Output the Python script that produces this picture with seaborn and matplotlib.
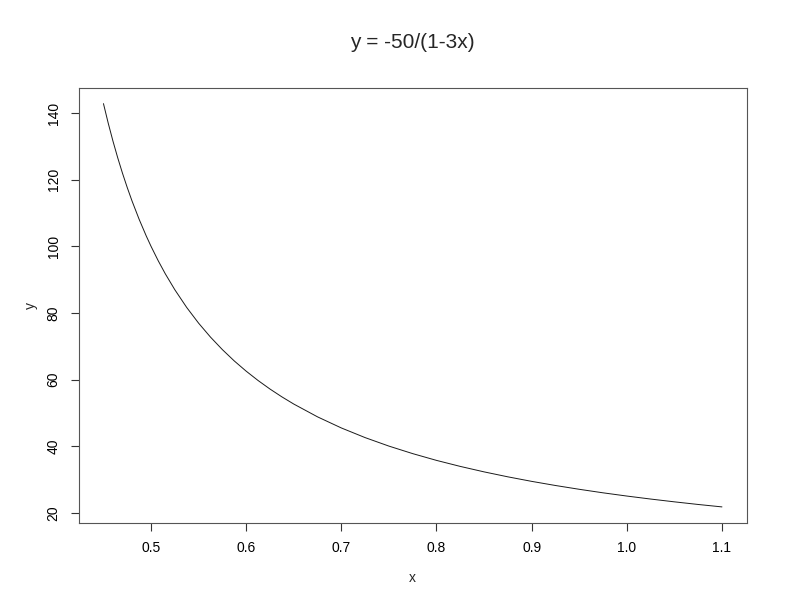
import matplotlib
matplotlib.use("Agg")
import matplotlib.pyplot as plt
import pandas as pd
import seaborn as sns

# values
x_vals = [0.45, 0.455, 0.46, 0.465, 0.47, 0.475, 0.48, 0.4875, 0.495, 0.5, 0.5075,
          0.515, 0.525, 0.5375, 0.55, 0.5625, 0.575, 0.5875, 0.6, 0.6125, 0.625,
          0.6375, 0.65, 0.675, 0.7, 0.725, 0.75, 0.775, 0.8, 0.825, 0.85, 0.875,
          0.9, 0.925, 0.95, 0.975, 1.0, 1.025, 1.05, 1.075, 1.1]
y_vals = [142.86, 136.99, 131.58, 126.58, 121.95, 117.65, 113.64, 108.11, 103.09,
          100.0, 95.69, 91.74, 86.96, 81.63, 76.92, 72.73, 68.97, 65.57, 62.5,
          59.7, 57.14, 54.79, 52.63, 48.78, 45.45, 42.55, 40.0, 37.74, 35.71,
          33.9, 32.26, 30.77, 29.41, 28.17, 27.03, 25.97, 25.0, 24.1, 23.26,
          22.47, 21.74]
x_ticks = [0.5, 0.6, 0.7, 0.8, 0.9, 1.0, 1.1]
y_ticks = [20, 40, 60, 80, 100, 120, 140]

df = pd.DataFrame({"x": x_vals, "y": y_vals})

sns.set_style("white")
plt.rcParams['font.family'] = ['Liberation Sans', 'DejaVu Sans']

fig = plt.figure(figsize=(7.92, 6.12), dpi=100)
ax = fig.add_axes([0.0994, 0.1454, 0.8434, 0.7116])

sns.lineplot(data=df, x="x", y="y", ax=ax, color="#1a1a1a", linewidth=0.7, sort=False)

ax.set_xlim(0.424, 1.126)
ax.set_ylim(16.9, 147.7)
ax.set_xticks(x_ticks)
ax.set_xticklabels(["0.5", "0.6", "0.7", "0.8", "0.9", "1.0", "1.1"])
ax.set_yticks(y_ticks)
ax.set_yticklabels([str(v) for v in y_ticks], rotation=90, va="center")

ax.tick_params(axis="both", direction="out", length=6, width=0.8, colors="#333333",
               labelcolor="black", labelsize=10, pad=7, left=True, bottom=True)
for s in ax.spines.values():
    s.set_visible(True)
    s.set_color("#555555")
    s.set_linewidth(0.8)

ax.set_xlabel("x", fontsize=10)
ax.set_ylabel("y", fontsize=10)
ax.xaxis.set_label_coords(0.5, -0.110)
ax.yaxis.set_label_coords(-0.061, 0.5)

fig.text(0.521, 1 - 42.5 / 612, "y = -50/(1-3x)", ha="center", va="center", fontsize=15)

fig.savefig("out.png", dpi=100)
